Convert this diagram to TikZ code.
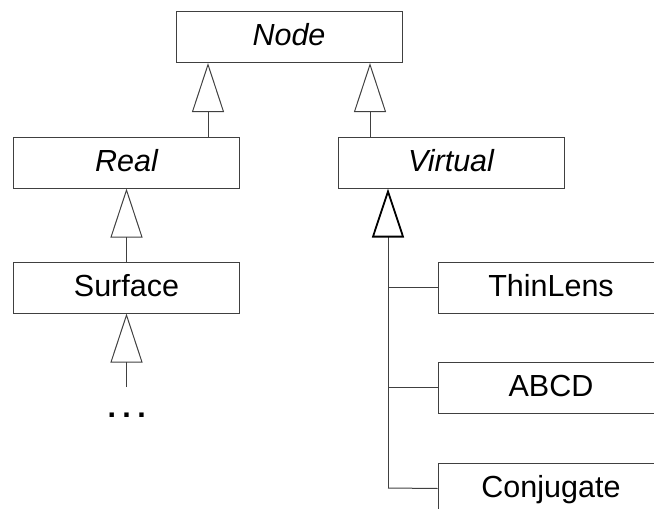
\documentclass[tikz,border=0pt]{standalone}
\usepackage{fontspec}
\setmainfont{Liberation Sans}
\usetikzlibrary{arrows.meta}
\definecolor{ink}{gray}{0.25}
\tikzset{
  cls/.style={draw=ink, line width=1pt, fill=white, minimum width=226pt, minimum height=51pt,
    inner sep=0pt, text height=22pt, text depth=5pt,
    font=\fontsize{30.5}{33}\selectfont, text=black},
  inh/.style={draw=ink, line width=1pt, -{Triangle[open, length=49pt, width=32pt, line width=1pt]}},
  inhthick/.style={draw=ink, line width=1pt, -{Triangle[open, length=49pt, width=32pt, line width=1.8pt, color=black]}},
  link/.style={draw=ink, line width=1pt}
}
\begin{document}
\begin{tikzpicture}[x=1pt, y=-1pt]
  \useasboundingbox (0,0) rectangle (654,509);
  \clip (0,0) rectangle (654,509);

  % class boxes
  \node[cls] (Node)      at (289,37)  {\itshape Node};
  \node[cls] (Real)      at (126.5,162.5) {\itshape Real};
  \node[cls] (Virtual)   at (451,162.5) {\itshape Virtual};
  \node[cls] (Surface)   at (126.5,287.5) {Surface};
  \node[cls] (ThinLens)  at (551,287.5) {ThinLens};
  \node[cls] (ABCD)      at (551,387.5) {ABCD};
  \node[cls] (Conjugate) at (551,488.5) {Conjugate};
  \node[anchor=base, inner sep=0pt, font=\fontsize{30.5}{33}\selectfont\bfseries] (dots)
    at (126.7,417.5) {.\hspace{6.4pt}.\hspace{6.4pt}.};

  % inheritance arrows
  \coordinate (r1) at (208,137);
  \coordinate (v1) at (370,137);
  \draw[inh] (r1) -- (r1 |- Node.south);
  \draw[inh] (v1) -- (v1 |- Node.south);
  \draw[inh] (Surface.north) -- (Real.south);
  \coordinate (s1) at (126.5,387);
  \draw[inh] (s1) -- (Surface.south);

  % tree of subclasses under Virtual
  \coordinate (vb) at (388,488);
  \draw[inhthick] (vb) -- (vb |- Virtual.south);
  \draw[link] (vb |- ThinLens.west) -- (ThinLens.west);
  \draw[link] (vb |- ABCD.west) -- (ABCD.west);
  \draw[link] (vb) -- (Conjugate.west);
\end{tikzpicture}
\end{document}
